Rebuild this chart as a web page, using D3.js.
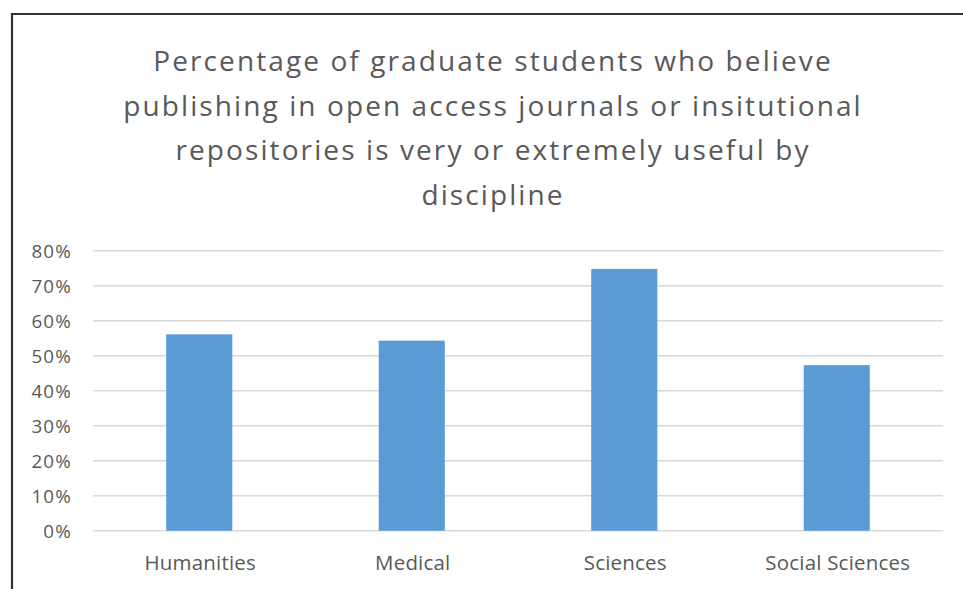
<!DOCTYPE html>
<html>
<head>
<meta charset="utf-8">
<script src="https://cdn.jsdelivr.net/npm/d3@7"></script>
<style>
  body { margin: 0; background: #fff; }
  svg { display: block; }
</style>
</head>
<body>
<script>
// data
const disciplines = ["Humanities", "Medical", "Sciences", "Social Sciences"];
const shareUseful = [0.561, 0.543, 0.748, 0.473];
const yTicks = [0, 0.1, 0.2, 0.3, 0.4, 0.5, 0.6, 0.7, 0.8];
const titleLines = [
  "Percentage of graduate students who believe",
  "publishing in open access journals or insitutional",
  "repositories is very or extremely useful by",
  "discipline"
];

const W = 963, H = 589;
const margin = {top: 250.7, right: 20, bottom: 58.3, left: 93};
const fontFam = "'Open Sans', Lato, sans-serif";

const svg = d3.select("body").append("svg")
  .attr("width", W)
  .attr("height", H);

svg.append("rect")
  .attr("width", W).attr("height", H)
  .attr("fill", "#fff");

// chart frame (only left and top edges are inside the picture)
svg.append("path")
  .attr("d", "M12," + H + "V14H" + (W + 5))
  .attr("fill", "none")
  .attr("stroke", "#333")
  .attr("stroke-width", 2.2);

const x = d3.scaleBand()
  .domain(disciplines)
  .range([margin.left, W - margin.right])
  .paddingInner(0.689)
  .paddingOuter(0.3445);

const y = d3.scaleLinear()
  .domain([0, 0.8])
  .range([H - margin.bottom, margin.top]);

// gridlines
svg.append("g")
  .selectAll("line")
  .data(yTicks)
  .join("line")
  .attr("x1", margin.left)
  .attr("x2", W - margin.right)
  .attr("y1", d => y(d))
  .attr("y2", d => y(d))
  .attr("stroke", "#d9d9d9")
  .attr("stroke-width", 1.5);

// y axis labels
const yAxis = d3.axisLeft(y)
  .tickValues(yTicks)
  .tickFormat(d3.format(".0%"))
  .tickSize(0)
  .tickPadding(0);

const gy = svg.append("g")
  .attr("transform", "translate(" + (margin.left - 21) + ",0)")
  .call(yAxis);
gy.select(".domain").remove();
gy.selectAll("text")
  .attr("fill", "#595959")
  .attr("dy", "0.35em")
  .style("font-family", fontFam)
  .style("font-size", "18.8px")
  .style("letter-spacing", "1.2px");

// bars
svg.append("g")
  .selectAll("rect")
  .data(disciplines)
  .join("rect")
  .attr("x", d => x(d))
  .attr("width", x.bandwidth())
  .attr("y", (d, i) => y(shareUseful[i]))
  .attr("height", (d, i) => y(0) - y(shareUseful[i]))
  .attr("fill", "#5b9bd5");

// x axis labels
const xAxis = d3.axisBottom(x).tickSize(0).tickPadding(0);
const gx = svg.append("g")
  .attr("transform", "translate(1,570)")
  .call(xAxis);
gx.select(".domain").remove();
gx.selectAll("text")
  .attr("fill", "#595959")
  .attr("dy", 0)
  .style("font-family", fontFam)
  .style("font-size", "20.5px")
  .style("letter-spacing", "0.2px");

// title
svg.append("g")
  .selectAll("text")
  .data(titleLines)
  .join("text")
  .attr("x", 493)
  .attr("y", (d, i) => 71 + i * 44.7)
  .attr("text-anchor", "middle")
  .attr("fill", "#595959")
  .style("font-family", fontFam)
  .style("font-size", "28px")
  .style("letter-spacing", "2.1px")
  .text(d => d);
</script>
</body>
</html>
